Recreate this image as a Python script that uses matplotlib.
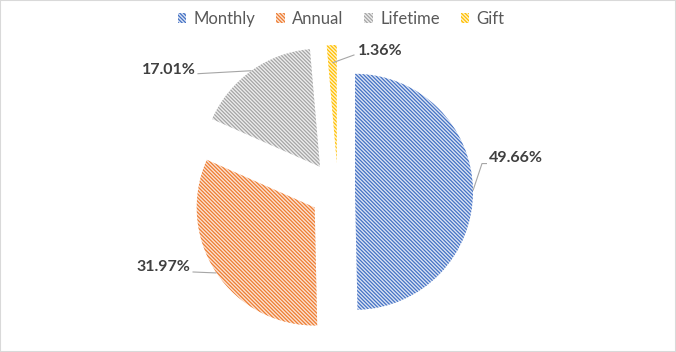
import numpy as np
import matplotlib
matplotlib.use("Agg")
import matplotlib.pyplot as plt
from matplotlib.patches import Rectangle

# data
labels = ["Monthly", "Annual", "Lifetime", "Gift"]
shares = [49.66, 31.97, 17.01, 1.36]
pct_text = ["49.66%", "31.97%", "17.01%", "1.36%"]

# styling
colors = ["#4472C4", "#ED7D31", "#A5A5A5", "#FFC000"]
tints = ["#DCE4F4", "#FCE2D3", "#EDEDED", "#FFF2CC"]
explode = [17, 28, 31, 29]            # pixels
lead_r = [1.0, 1.0, 1.0, 0.85]          # where leader leaves the slice
# leader path offsets (elbow, end) and text offset, all from leader start
elbows = [(9, 27), None, None, None]
ends = [(14, 27), (-24, 1), (-54, -3), (22, 8)]
txt_off = [(16, 33), (-26, 6), (-56, 1), (25, 12)]
txt_ha = ["left", "right", "right", "left"]

plt.rcParams["font.family"] = ["Lato", "DejaVu Sans"]
plt.rcParams["hatch.linewidth"] = 0.9

W, H = 676, 352
fig = plt.figure(figsize=(W / 100, H / 100), dpi=100)
ax = fig.add_axes([0, 0, 1, 1])

cx, cy, R = 338, H - 192, 118
wedges, _ = ax.pie(shares, explode=explode, startangle=90, counterclock=False,
                   center=(cx, cy), radius=R, colors=tints,
                   wedgeprops=dict(linewidth=0))
for w, c in zip(wedges, colors):
    w.set_hatch("\\" * 9)
    w.set_edgecolor(c)
    w.set_linewidth(0)

ax.set_xlim(0, W)
ax.set_ylim(0, H)
ax.set_aspect("equal")
ax.axis("off")

for i, w in enumerate(wedges):
    mid = np.deg2rad((w.theta1 + w.theta2) / 2)
    x0, y0 = w.center
    sx = x0 + lead_r[i] * R * np.cos(mid)
    sy = y0 + lead_r[i] * R * np.sin(mid)
    pts = [(sx, sy)]
    if elbows[i] is not None:
        pts.append((sx + elbows[i][0], sy + elbows[i][1]))
    pts.append((sx + ends[i][0], sy + ends[i][1]))
    px, py = zip(*pts)
    ax.plot(px, py, color="#A6A6A6", lw=0.8, solid_capstyle="butt")
    ax.text(sx + txt_off[i][0], sy + txt_off[i][1], pct_text[i],
            ha=txt_ha[i], va="center", fontsize=11.5, fontweight="bold",
            color="#404040")

leg = fig.legend(wedges, labels, loc="center", ncol=4,
                 bbox_to_anchor=(341 / W, 1 - 19 / H), frameon=False,
                 fontsize=12, handlelength=0.5, handleheight=0.5,
                 handletextpad=0.45, columnspacing=1.25, borderpad=0)
for t in leg.get_texts():
    t.set_color("#595959")

fig.patches.append(Rectangle((0, 0), 1, 1, transform=fig.transFigure,
                             fill=False, edgecolor="#D9D9D9", lw=1.5))

fig.savefig("out.png", dpi=100)
